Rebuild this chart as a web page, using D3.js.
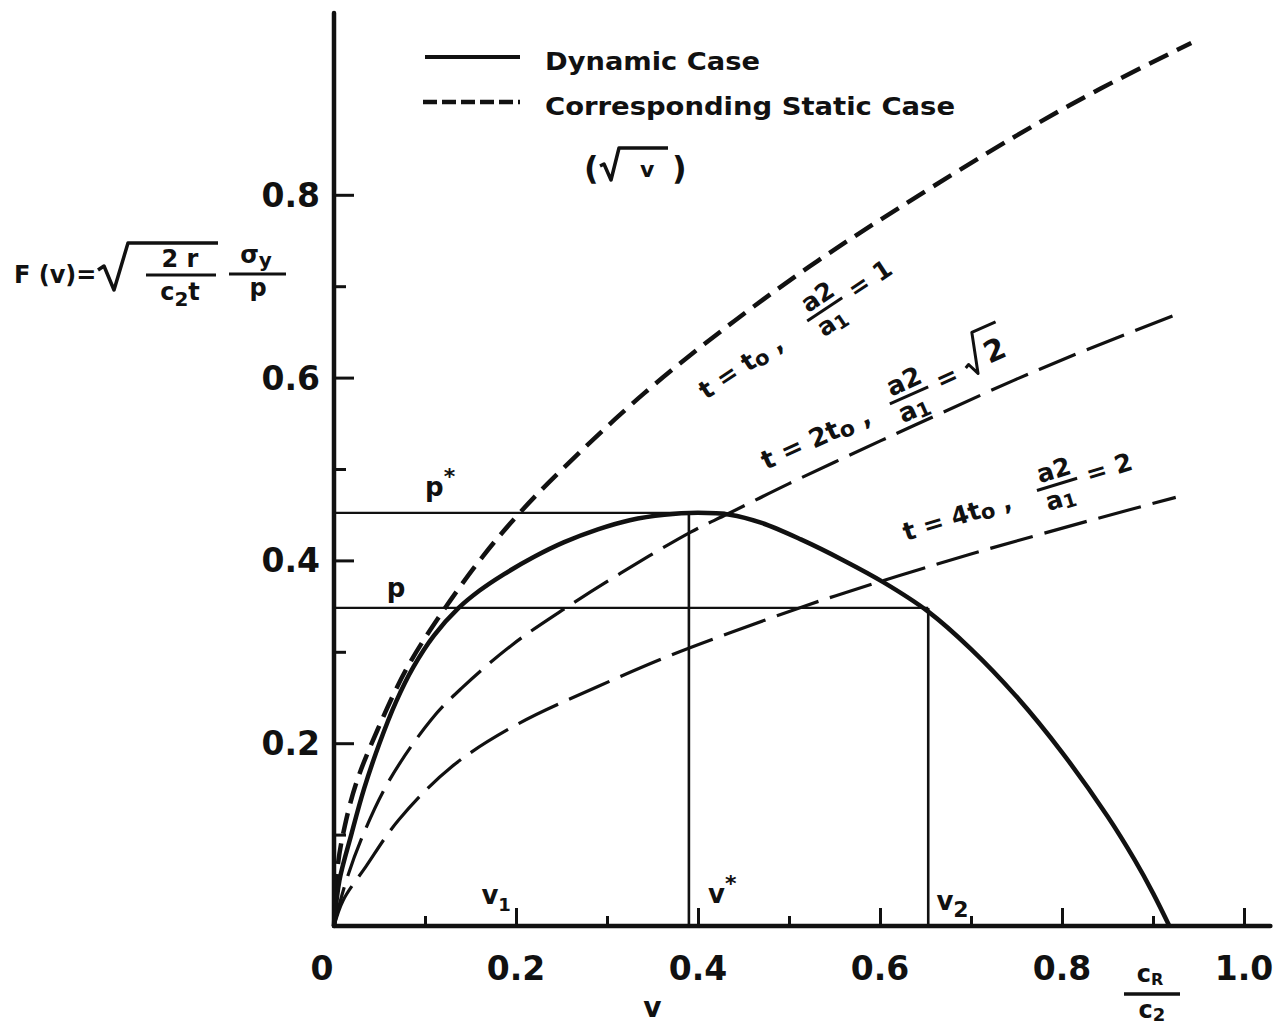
<!DOCTYPE html>
<html>
<head>
<meta charset="utf-8">
<script src="https://cdn.jsdelivr.net/npm/d3@7"></script>
<style>
  html, body { margin: 0; background: #fff; }
  svg { display: block; }
  text { font-family: "DejaVu Sans", sans-serif; font-weight: bold; fill: #111; }
</style>
</head>
<body>
<svg id="chart" width="1280" height="1029"></svg>
<script>
// Dynamic case F(v)
const vDynamic = [0, 0.006, 0.019, 0.033, 0.05, 0.068, 0.087, 0.11, 0.137, 0.16, 0.187, 0.22, 0.253, 0.29, 0.325, 0.363, 0.40, 0.435, 0.47, 0.513, 0.56, 0.604, 0.653, 0.70, 0.75, 0.80, 0.85, 0.88, 0.90, 0.918];
const fDynamic = [0, 0.05, 0.10, 0.15, 0.20, 0.245, 0.283, 0.318, 0.348, 0.367, 0.385, 0.404, 0.42, 0.434, 0.444, 0.45, 0.452, 0.45, 0.441, 0.423, 0.40, 0.376, 0.344, 0.303, 0.251, 0.19, 0.12, 0.072, 0.036, 0];

// Corresponding static case, t = t0, a2/a1 = 1
const vStatic = [0, 0.004, 0.012, 0.025, 0.048, 0.08, 0.118, 0.164, 0.205, 0.249, 0.341, 0.44, 0.532, 0.623, 0.747, 0.842, 0.942];
const fStatic = [0, 0.065, 0.11, 0.158, 0.215, 0.282, 0.342, 0.405, 0.453, 0.498, 0.583, 0.662, 0.728, 0.787, 0.863, 0.916, 0.966];

// t = 2t0, a2/a1 = sqrt(2)
const vTwo = [0, 0.012, 0.03, 0.06, 0.107, 0.14, 0.195, 0.25, 0.315, 0.392, 0.433, 0.5, 0.601, 0.667, 0.747, 0.821, 0.933];
const fTwo = [0, 0.045, 0.095, 0.158, 0.226, 0.26, 0.307, 0.345, 0.386, 0.431, 0.451, 0.484, 0.531, 0.561, 0.597, 0.628, 0.672];

// t = 4t0, a2/a1 = 2
const vFour = [0, 0.01, 0.035, 0.071, 0.129, 0.202, 0.29, 0.367, 0.436, 0.52, 0.604, 0.70, 0.843, 0.925];
const fFour = [0, 0.028, 0.065, 0.116, 0.174, 0.221, 0.262, 0.295, 0.321, 0.351, 0.378, 0.407, 0.447, 0.469];

// Reference levels
const pStar = 0.452, pLevel = 0.348, vStar = 0.39, vTwoPoint = 0.653, vPeakEnd = 0.43;

// Axis ticks and labels
const xMajorTicks = [0.2, 0.4, 0.6, 0.8, 1.0];
const xMinorTicks = [0.1, 0.3, 0.5, 0.7, 0.9];
const xTickLabels = ["0", "0.2", "0.4", "0.6", "0.8", "1.0"];
const xLabelValues = [0, 0.2, 0.4, 0.6, 0.8, 1.0];
const yMajorTicks = [0.2, 0.4, 0.6, 0.8];
const yMinorTicks = [0.1, 0.3, 0.5, 0.7];
const yTickLabels = ["0.2", "0.4", "0.6", "0.8"];

const svg = d3.select("#chart");
const x = d3.scaleLinear().domain([0, 1]).range([334, 1244]);
const y = d3.scaleLinear().domain([0, 1]).range([926, 12]);
const ink = "#111";

const pairs = (vs, fs) => vs.map((v, i) => [v, fs[i]]);
const line = d3.line().x(d => x(d[0])).y(d => y(d[1])).curve(d3.curveCatmullRom.alpha(0.5));

// ---- axes ----
const gx1 = svg.append("g").attr("transform", `translate(0,${y(0)})`)
  .call(d3.axisBottom(x).tickValues(xMajorTicks).tickSize(-18).tickFormat(""));
const gx2 = svg.append("g").attr("transform", `translate(0,${y(0)})`)
  .call(d3.axisBottom(x).tickValues(xMinorTicks).tickSize(-10).tickFormat(""));
const gy1 = svg.append("g").attr("transform", `translate(${x(0)},0)`)
  .call(d3.axisLeft(y).tickValues(yMajorTicks).tickSize(-20).tickFormat(""));
const gy2 = svg.append("g").attr("transform", `translate(${x(0)},0)`)
  .call(d3.axisLeft(y).tickValues(yMinorTicks).tickSize(-12).tickFormat(""));
[gx1, gx2, gy1, gy2].forEach(g => {
  g.select(".domain").remove();
  g.selectAll(".tick line").attr("stroke", ink).attr("stroke-width", 3);
});
svg.append("line").attr("x1", x(0)).attr("x2", x(1.029)).attr("y1", y(0)).attr("y2", y(0))
  .attr("stroke", ink).attr("stroke-width", 4.5).attr("stroke-linecap", "round");
svg.append("line").attr("x1", x(0)).attr("x2", x(0)).attr("y1", y(0)).attr("y2", y(0.999))
  .attr("stroke", ink).attr("stroke-width", 4.5).attr("stroke-linecap", "round");

// tick labels
svg.selectAll(".xlab").data(xLabelValues).join("text")
  .attr("x", (d, i) => x(d) + (i === 0 ? -12 : 0)).attr("y", 980)
  .attr("text-anchor", "middle").attr("font-size", 33)
  .text((d, i) => xTickLabels[i]);
svg.selectAll(".ylab").data(yMajorTicks).join("text")
  .attr("x", 320).attr("y", d => y(d) + 12)
  .attr("text-anchor", "end").attr("font-size", 33)
  .text((d, i) => yTickLabels[i]);

// axis titles
svg.append("text").attr("x", x(0.35)).attr("y", 1017).attr("text-anchor", "middle").attr("font-size", 28).text("v");
svg.append("text").attr("x", 1150).attr("y", 982).attr("text-anchor", "middle").attr("font-size", 24)
  .call(t => { t.append("tspan").text("c"); t.append("tspan").attr("font-size", 16).attr("dy", 3).text("R"); });
svg.append("line").attr("x1", 1124).attr("x2", 1180).attr("y1", 994).attr("y2", 994).attr("stroke", ink).attr("stroke-width", 3.5);
svg.append("text").attr("x", 1152).attr("y", 1018).attr("text-anchor", "middle").attr("font-size", 24)
  .call(t => { t.append("tspan").text("c"); t.append("tspan").attr("font-size", 18).attr("dy", 3).text("2"); });

// y title: F(v) = sqrt(2r / c2 t) * sigma_y / p
const yt = svg.append("g");
yt.append("text").attr("x", 14).attr("y", 283).attr("font-size", 24).text("F (v)=");
yt.append("path").attr("d", "M98,270 L104,266 L114,290 L128,243 L218,243")
  .attr("fill", "none").attr("stroke", ink).attr("stroke-width", 3.5).attr("stroke-linejoin", "round");
yt.append("text").attr("x", 180).attr("y", 267).attr("text-anchor", "middle").attr("font-size", 24).text("2 r");
yt.append("line").attr("x1", 146).attr("x2", 216).attr("y1", 275).attr("y2", 275).attr("stroke", ink).attr("stroke-width", 3);
yt.append("text").attr("x", 180).attr("y", 300).attr("text-anchor", "middle").attr("font-size", 24)
  .call(t => {
    t.append("tspan").text("c");
    t.append("tspan").attr("font-size", 20).attr("dy", 6).text("2");
    t.append("tspan").attr("dy", -6).text("t");
  });
yt.append("text").attr("x", 256).attr("y", 263).attr("text-anchor", "middle").attr("font-size", 24)
  .call(t => { t.append("tspan").text("σ"); t.append("tspan").attr("font-size", 20).attr("dy", 4).text("y"); });
yt.append("line").attr("x1", 229).attr("x2", 286).attr("y1", 274).attr("y2", 274).attr("stroke", ink).attr("stroke-width", 3);
yt.append("text").attr("x", 258).attr("y", 296).attr("text-anchor", "middle").attr("font-size", 24).text("p");

// ---- reference lines ----
const thin = 2.2;
svg.append("line").attr("x1", x(0)).attr("x2", x(vPeakEnd)).attr("y1", y(pStar)).attr("y2", y(pStar)).attr("stroke", ink).attr("stroke-width", thin);
svg.append("line").attr("x1", x(0)).attr("x2", x(vTwoPoint)).attr("y1", y(pLevel)).attr("y2", y(pLevel)).attr("stroke", ink).attr("stroke-width", thin);
svg.append("line").attr("x1", x(vStar)).attr("x2", x(vStar)).attr("y1", y(0)).attr("y2", y(pStar)).attr("stroke", ink).attr("stroke-width", thin + 0.4);
svg.append("line").attr("x1", x(vTwoPoint)).attr("x2", x(vTwoPoint)).attr("y1", y(0)).attr("y2", y(pLevel)).attr("stroke", ink).attr("stroke-width", thin + 0.4);

// ---- curves ----
svg.append("path").datum(pairs(vFour, fFour)).attr("d", line)
  .attr("fill", "none").attr("stroke", ink).attr("stroke-width", 3.2).attr("stroke-dasharray", "44,12");
svg.append("path").datum(pairs(vTwo, fTwo)).attr("d", line)
  .attr("fill", "none").attr("stroke", ink).attr("stroke-width", 3.2).attr("stroke-dasharray", "40,12");
svg.append("path").datum(pairs(vStatic, fStatic)).attr("d", line)
  .attr("fill", "none").attr("stroke", ink).attr("stroke-width", 4.5).attr("stroke-dasharray", "21,10");
svg.append("path").datum(pairs(vDynamic, fDynamic)).attr("d", line)
  .attr("fill", "none").attr("stroke", ink).attr("stroke-width", 4.5);

// ---- point labels ----
function subLabel(px, py, main, sub, opts = {}) {
  const t = svg.append("text").attr("x", px).attr("y", py).attr("font-size", opts.size || 26);
  t.append("tspan").text(main);
  t.append("tspan").attr("font-size", opts.subSize || 18).attr("dy", opts.dy || 6).text(sub);
  return t;
}
subLabel(x(0.10), y(0.47), "p", "*", { dy: -12, subSize: 22 });
svg.append("text").attr("x", x(0.058)).attr("y", y(0.36)).attr("font-size", 26).text("p");
subLabel(x(0.162), y(0.024), "v", "1", { subSize: 18, dy: 7 });
subLabel(x(0.411), y(0.025), "v", "*", { dy: -12, subSize: 22 });
subLabel(x(0.662), y(0.018), "v", "2", { subSize: 22, dy: 7 });

// ---- legend ----
svg.append("line").attr("x1", 425).attr("x2", 520).attr("y1", 57).attr("y2", 57).attr("stroke", ink).attr("stroke-width", 4);
svg.append("line").attr("x1", 423).attr("x2", 520).attr("y1", 102).attr("y2", 102).attr("stroke", ink).attr("stroke-width", 4.5).attr("stroke-dasharray", "14,5");
svg.append("text").attr("x", 545).attr("y", 70).attr("font-size", 25).attr("textLength", 215).attr("lengthAdjust", "spacingAndGlyphs").text("Dynamic Case");
svg.append("text").attr("x", 545).attr("y", 115).attr("font-size", 25).attr("textLength", 410).attr("lengthAdjust", "spacingAndGlyphs").text("Corresponding Static Case");
svg.append("text").attr("x", 584).attr("y", 179).attr("font-size", 32).attr("font-weight", "normal").text("(");
svg.append("path").attr("d", "M600,166 L604,164 L611,180 L619,148 L668,148")
  .attr("fill", "none").attr("stroke", ink).attr("stroke-width", 3.5).attr("stroke-linejoin", "round");
svg.append("text").attr("x", 640).attr("y", 177).attr("font-size", 22).text("v");
svg.append("text").attr("x", 672).attr("y", 179).attr("font-size", 32).attr("font-weight", "normal").text(")");

// ---- rotated curve labels ----
function curveLabel(ox, oy, angle, coef, fracX, ratio, size) {
  const g = svg.append("g").attr("transform", `translate(${ox},${oy}) rotate(${angle})`);
  const t = g.append("text").attr("x", 0).attr("y", 0).attr("font-size", size);
  t.append("tspan").text("t = " + coef + "t");
  t.append("tspan").attr("font-size", size - 4).attr("dy", 3).text("o");
  t.append("tspan").attr("dy", -3).text(" ,");
  g.append("text").attr("x", fracX).attr("y", -16).attr("text-anchor", "middle").attr("font-size", size).text("a2");
  g.append("line").attr("x1", fracX - 22).attr("x2", fracX + 20).attr("y1", -10).attr("y2", -10).attr("stroke", ink).attr("stroke-width", 3);
  const d = g.append("text").attr("x", fracX - 2).attr("y", 13).attr("text-anchor", "middle").attr("font-size", size);
  d.append("tspan").text("a");
  d.append("tspan").attr("font-size", size - 6).attr("dy", 3).text("1");
  const r = g.append("text").attr("x", fracX + 30).attr("y", -2).attr("font-size", size);
  r.append("tspan").text("= ");
  if (ratio === "√2") {
    const rx = fracX + 62;
    g.append("path").attr("d", `M${rx},-12 L${rx + 4},-14 L${rx + 9},-2 L${rx + 20},-42 L${rx + 46},-42`)
      .attr("fill", "none").attr("stroke", ink).attr("stroke-width", 3).attr("stroke-linejoin", "round");
    g.append("text").attr("x", rx + 23).attr("y", -6).attr("font-size", 30).text("2");
  } else {
    r.append("tspan").text(ratio);
  }
}
curveLabel(706, 400, -33.5, "", 150, "1", 25);
curveLabel(766, 470, -24, "2", 162, "√2", 26);
curveLabel(906, 541, -17, "4", 162, "2", 25);
</script>
</body>
</html>
